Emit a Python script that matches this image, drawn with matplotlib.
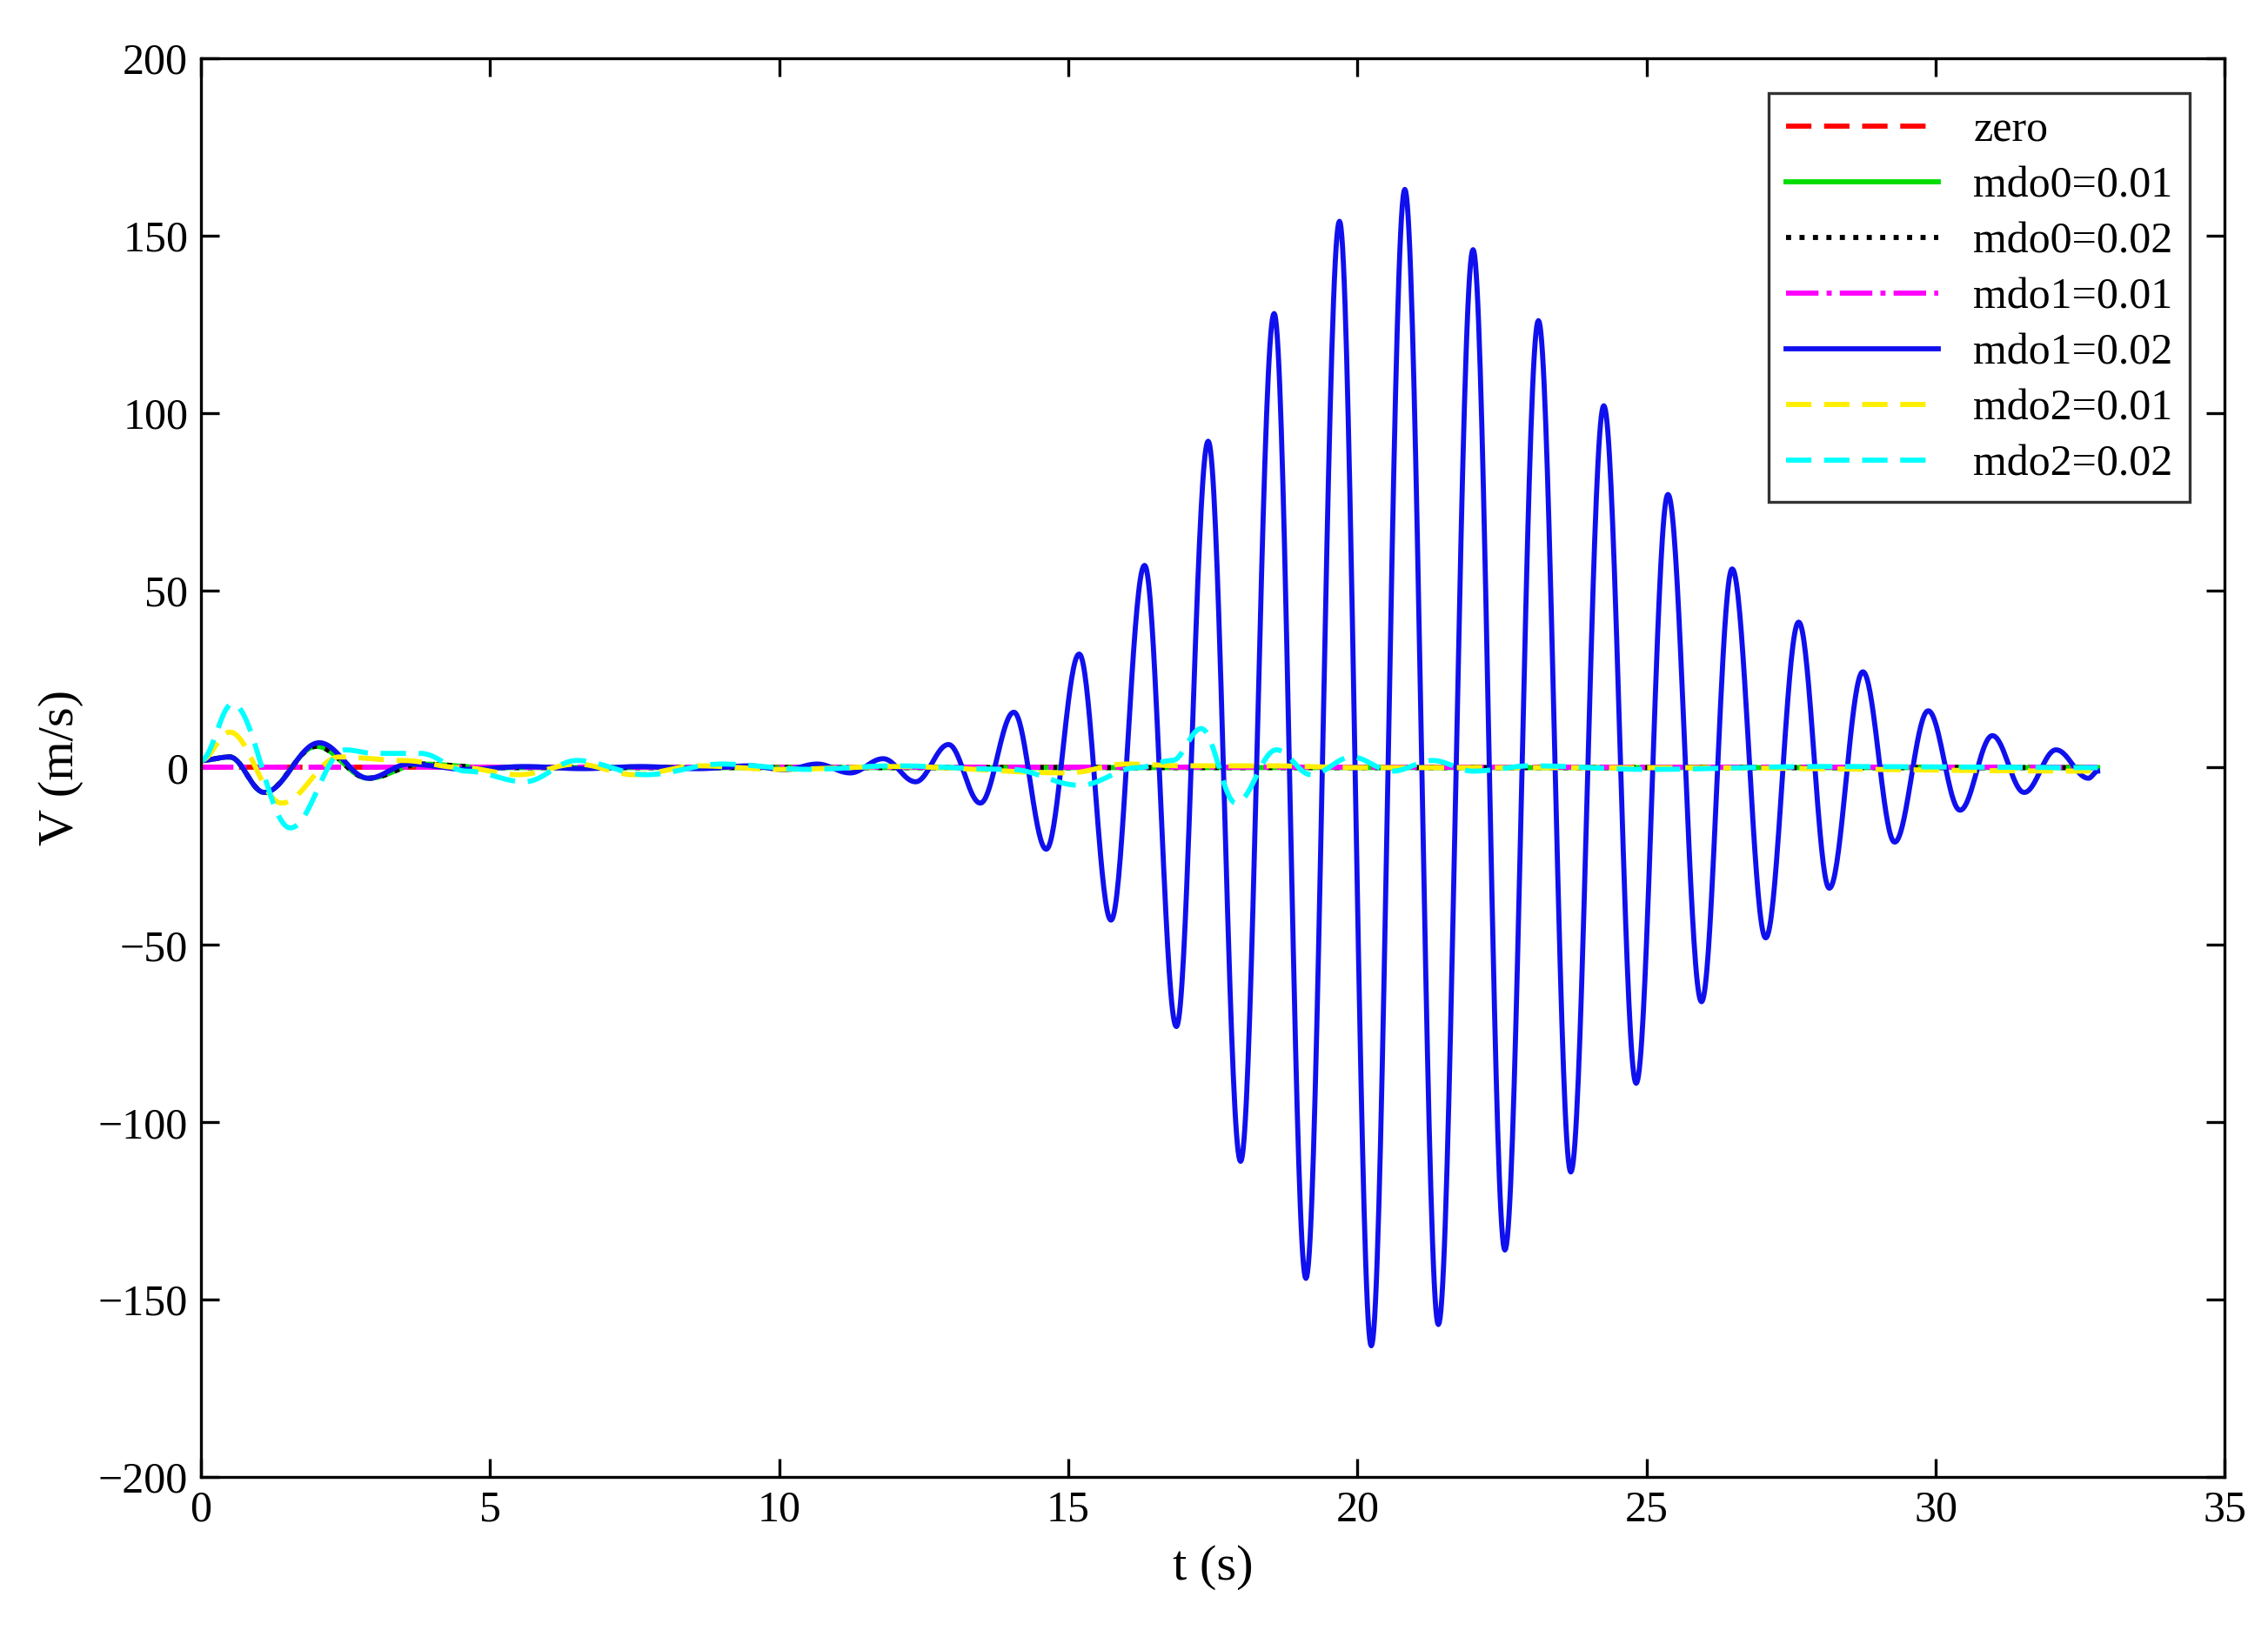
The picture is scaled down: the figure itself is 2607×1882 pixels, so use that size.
import numpy as np
import matplotlib
matplotlib.use("Agg")
import matplotlib.pyplot as plt

plt.rcParams['font.family'] = ['Liberation Serif', 'DejaVu Serif']
plt.rcParams['mathtext.fontset'] = 'stix'

# extrema (time, value); curves drawn as half-cosine arcs between them
blue_t = [0, 0.5, 1.1, 2.05, 2.9, 3.6, 4.6, 5.6, 6.6, 7.6, 8.6, 9.5, 10.1, 10.66, 11.23, 11.8, 12.36, 12.93, 13.48,
          14.06, 14.62, 15.19, 15.74, 16.32, 16.87, 17.42, 17.98, 18.56, 19.11, 19.69, 20.24, 20.82, 21.4, 22.0,
          22.55, 23.13, 23.69, 24.26, 24.82, 25.37, 25.95, 26.48, 27.06, 27.63, 28.16, 28.74, 29.29, 29.87, 30.42,
          30.98, 31.53, 32.08, 32.64, 32.8]
blue_v = [2, 3, -7, 7, -3, 1, -0.5, 0.3, -0.3, 0.3, -0.3, 0.5, -0.6, 1, -1.5, 2.5, -4, 6.5, -10,
          15.6, -23, 32, -43, 57, -73, 92, -111, 128, -144, 154, -163, 163, -157, 146,
          -136, 126, -114, 102, -89, 77, -66, 56, -48, 41, -34, 27, -21, 16, -12,
          9, -7, 5, -3, -1]

cyan_t = [0, 0.55, 1.55, 2.5, 3.0, 3.8, 4.6, 5.6, 6.5, 7.7, 9.0, 10.5, 12.0, 14.0, 15.2, 16.2, 16.8, 17.3, 17.9,
          18.6, 19.2, 19.9, 20.6, 21.3, 22.0, 23.0, 25.0, 28.0, 32.8]
cyan_v = [2, 18, -17, 5, 4, 4, -1, -4, 2, -2, 1, -0.5, 0.5, -0.5, -5, 0, 2, 11, -10,
          5, -2, 3, -1, 2, -1, 0.5, -0.5, 0.3, 0]

yellow_t = [0, 0.5, 1.4, 2.4, 3.5, 4.5, 5.5, 6.5, 7.5, 8.6, 10.0, 12.0, 15.0, 16.0, 17.0, 18.5, 20.0, 25.0, 32.8]
yellow_v = [2, 10, -10, 3, 2, 0, -2, 1, -2, 0.5, -0.5, 0.3, -1.5, 1, 0.5, 0.5, 0, 0, -1]

black_t = [0, 0.5, 1.1, 2.0, 2.9, 3.8, 5.0, 32.8]
black_v = [2, 3, -7, 6, -3, 1, 0, 0]

green_t, green_v = black_t, black_v
zero_t = [0, 32.8]
zero_v = [0, 0]
mag_t, mag_v = zero_t, zero_v


def arcs(tk, vk, n=40):
    ts, vs = [], []
    for i in range(len(tk) - 1):
        s = np.linspace(0, 1, n, endpoint=False)
        w = (1 - np.cos(np.pi * s)) / 2
        ts.append(tk[i] + (tk[i + 1] - tk[i]) * s)
        vs.append(vk[i] + (vk[i + 1] - vk[i]) * w)
    ts.append([tk[-1]]); vs.append([vk[-1]])
    return np.concatenate(ts), np.concatenate(vs)


fig = plt.figure(figsize=(2607 / 300, 1882 / 300), dpi=300)
ax = fig.add_axes([0.0885, 0.0977, 0.8925, 0.8668])
lw = 1.4
ax.plot(*arcs(zero_t, zero_v), color='red', ls=(0, (5, 2.5)), lw=lw, label='zero')
ax.plot(*arcs(green_t, green_v), color='#00dd00', ls='-', lw=lw, label='mdo0=0.01')
ax.plot(*arcs(black_t, black_v), color='black', ls=':', lw=lw, label='mdo0=0.02')
ax.plot(*arcs(mag_t, mag_v), color='magenta', ls='-.', lw=lw, label='mdo1=0.01')
ax.plot(*arcs(blue_t, blue_v), color='#1010ee', ls='-', lw=lw, label='mdo1=0.02')
ax.plot(*arcs(yellow_t, yellow_v), color='#ffee00', ls=(0, (5, 2.5)), lw=lw, label='mdo2=0.01')
ax.plot(*arcs(cyan_t, cyan_v), color='cyan', ls=(0, (5, 2.5)), lw=lw, label='mdo2=0.02')

ax.set_xlim(0, 35)
ax.set_ylim(-200, 200)
ax.set_xticks(np.arange(0, 36, 5))
ax.set_yticks(np.arange(-200, 201, 50))
ax.tick_params(direction='in', top=True, right=True, labelsize=12, length=5)
ax.set_xlabel('t (s)', fontsize=14)
ax.set_ylabel('V (m/s)', fontsize=14)
leg = ax.legend(loc='upper right', fontsize=12, frameon=True, fancybox=False, edgecolor='black',
                handlelength=3.5, borderaxespad=0.8, labelspacing=0.35)
leg.get_frame().set_linewidth(0.8)
fig.savefig('out.png', dpi=300)
